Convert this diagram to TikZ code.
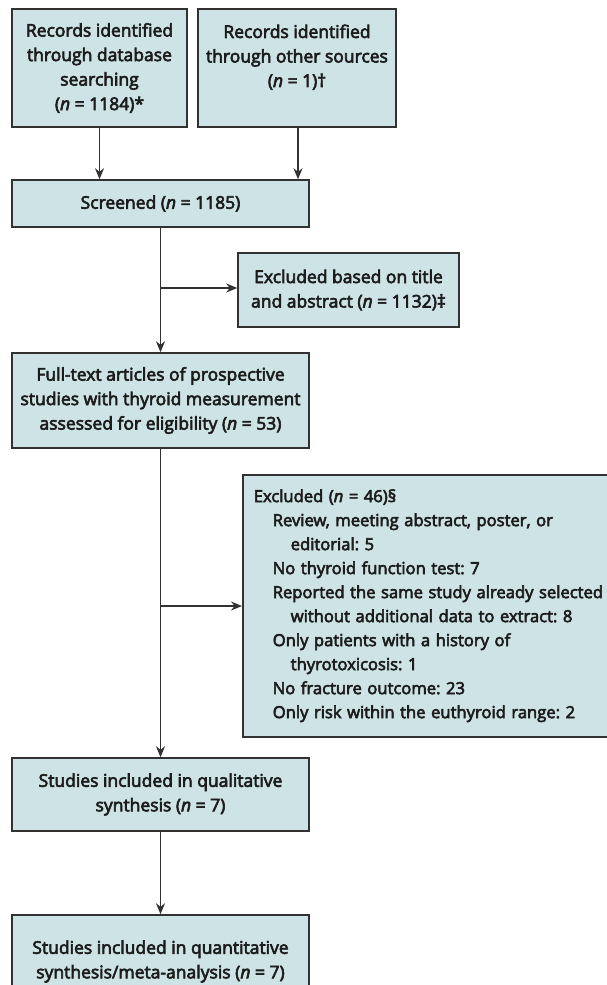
\documentclass[tikz,border=0pt]{standalone}
\usepackage{fontspec}
\setmainfont{Open Sans}
\newfontfamily\boxfont[FakeBold=3.5]{Open Sans}
\usetikzlibrary{arrows.meta}
\definecolor{boxfill}{RGB}{206,227,230}
\definecolor{boxline}{RGB}{50,50,50}
\definecolor{txt}{RGB}{28,28,28}
\frenchspacing
\begin{document}
\begin{tikzpicture}[x=1pt,y=-1pt,
  box/.style={draw=boxline, fill=boxfill, line width=1.5pt, text=txt, align=center, inner sep=0pt, font=\boxfont\fontsize{17.5}{24.5}\selectfont},
  arr/.style={draw=boxline, line width=1.6pt, -{Stealth[length=11pt,width=9pt]}},
  ln/.style={draw=boxline, line width=1.6pt}]
\useasboundingbox (0,0) rectangle (607,985);
\clip (0,0) rectangle (607,985);
\fill[white] (0,0) rectangle (607,985);
\node[box, minimum width=175pt, minimum height=118pt] (rec1) at (99.5,68) {Records identified\\through database\\searching\\(\textit{n} = 1184)*};
\node[box, minimum width=198pt, minimum height=118pt] (rec2) at (297,68) {Records identified\\through other sources\\(\textit{n} = 1)†\\~};
\node[box, minimum width=297pt, minimum height=47pt] (scr) at (160.5,203.5) {Screened (\textit{n} = 1185)};
\node[box, minimum width=221pt, minimum height=74pt] (ex1) at (348.5,290) {Excluded based on title\\and abstract (\textit{n} = 1132)‡};
\node[box, minimum width=297pt, minimum height=95pt] (full) at (160.5,400.5) {Full-text articles of prospective\\studies with thyroid measurement\\assessed for eligibility (\textit{n} = 53)};
\node[box, anchor=north west, align=left, text width=398pt, minimum height=262pt, inner xsep=11pt, font=\boxfont\fontsize{16.6}{24}\selectfont] (ex2) at (242,474) {Excluded (\textit{n} = 46)§\\
\hspace*{19pt}Review, meeting abstract, poster, or\\
\hspace*{37pt}editorial: 5\\
\hspace*{19pt}No thyroid function test: 7\\
\hspace*{19pt}Reported the same study already selected\\
\hspace*{37pt}without additional data to extract: 8\\
\hspace*{19pt}Only patients with a history of\\
\hspace*{37pt}thyrotoxicosis: 1\\
\hspace*{19pt}No fracture outcome: 23\\
\hspace*{19pt}Only risk within the euthyroid range: 2};
\node[box, minimum width=297pt, minimum height=73pt] (qual) at (160.5,794.5) {Studies included in qualitative\\synthesis (\textit{n} = 7)};
\node[box, minimum width=297pt, minimum height=93pt] (quant) at (160.5,961.5) {Studies included in quantitative\\synthesis/meta-analysis (\textit{n} = 7)};
\coordinate (b1) at (161,288);
\coordinate (b2) at (161,606);
\draw[arr] (rec1.south) -- (rec1.south |- scr.north);
\draw[arr] ([xshift=1pt]rec2.south) -- ([xshift=1pt]rec2.south |- scr.north);
\draw[arr] (scr.south) -- (full.north);
\draw[arr] (b1) -- (b1 -| ex1.west);
\draw[arr] (full.south) -- (qual.north);
\draw[arr] (b2) -- (b2 -| ex2.west);
\draw[arr] (qual.south) -- (quant.north);
\end{tikzpicture}
\end{document}
